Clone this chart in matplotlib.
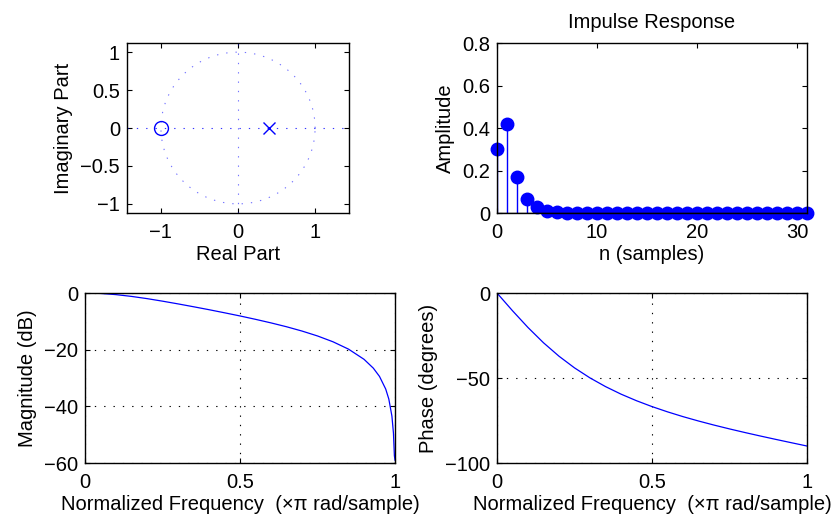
import numpy as np
import matplotlib
matplotlib.use("Agg")
import matplotlib.pyplot as plt

plt.rcParams['font.family'] = ['Liberation Sans', 'DejaVu Sans']
plt.rcParams['font.size'] = 14.5

# pole / zero
zeros_re = [-1.0]
zeros_im = [0.0]
poles_re = [0.4]
poles_im = [0.0]

# impulse response, n = 0..31
imp_n = list(range(32))
imp_h = [0.30, 0.42, 0.168, 0.067, 0.027, 0.011, 0.004, 0.002, 0.001] + [0.0] * 23

# magnitude response (dB) vs normalized frequency
mag_f = [0.0, 0.05, 0.1, 0.15, 0.2, 0.25, 0.3, 0.35, 0.4, 0.45, 0.5, 0.55, 0.6,
         0.65, 0.7, 0.75, 0.8, 0.85, 0.9, 0.93, 0.95, 0.97, 0.98, 0.99, 0.995,
         0.998, 1.0]
mag_db = [0.0, -0.14, -0.56, -1.19, -1.97, -2.87, -3.83, -4.84, -5.88, -6.97,
          -8.09, -9.28, -10.54, -11.90, -13.42, -15.15, -17.21, -19.80, -23.39,
          -26.51, -29.44, -33.89, -37.41, -43.44, -49.46, -57.42, -59.0]

# phase response (degrees)
ph_f = [0.0, 0.05, 0.1, 0.15, 0.2, 0.25, 0.3, 0.35, 0.4, 0.45, 0.5, 0.55, 0.6,
        0.65, 0.7, 0.75, 0.8, 0.85, 0.9, 0.95, 1.0]
ph_deg = [0.0, -10.41, -20.28, -29.26, -37.17, -44.02, -49.93, -55.03, -59.47,
          -63.35, -66.80, -69.89, -72.71, -75.28, -77.68, -79.93, -82.07, -84.13,
          -86.12, -88.07, -90.0]

DOTS = (0, (1.2, 7.2))

fig = plt.figure(figsize=(8.36, 5.17), dpi=100)


def matlab_axes(ax):
    ax.tick_params(direction='in', top=True, right=True, length=3.5, width=0.8)
    ax.tick_params(axis='x', pad=7)
    ax.tick_params(axis='y', pad=5)
    for s in ax.spines.values():
        s.set_linewidth(1.0)


# pole-zero plot
ax1 = fig.add_axes([0.1519, 0.5880, 0.2656, 0.3288])
t = np.linspace(0, 2 * np.pi, 200)
ax1.plot(np.cos(t), np.sin(t), color='blue', lw=0.8, alpha=0.55, ls=DOTS)
ax1.axhline(0, color='blue', lw=0.8, alpha=0.8, ls=DOTS)
ax1.axvline(0, color='blue', lw=0.8, alpha=0.55, ls=DOTS)
ax1.plot(zeros_re, zeros_im, 'o', mfc='none', mec='blue', ms=10, mew=1.0)
ax1.plot(poles_re, poles_im, 'x', color='blue', ms=8, mew=1.0)
ax1.set_xlim(-1.44, 1.44)
ax1.set_ylim(-1.12, 1.12)
ax1.set_xticks([-1, 0, 1])
ax1.set_yticks([-1, -0.5, 0, 0.5, 1])
ax1.set_xticklabels(['\u22121', '0', '1'])
ax1.set_yticklabels(['\u22121', '\u22120.5', '0', '0.5', '1'])
ax1.set_xlabel('Real Part', labelpad=2)
ax1.set_ylabel('Imaginary Part', labelpad=5)
matlab_axes(ax1)

# impulse response
ax2 = fig.add_axes([0.5945, 0.5880, 0.3708, 0.3288])
ml, sl, bl = ax2.stem(imp_n, imp_h, basefmt='k-')
plt.setp(ml, color='blue', markersize=9)
plt.setp(sl, color='blue', linewidth=1.0)
plt.setp(bl, color='black', linewidth=1.0)
ml.set_clip_on(False)
ax2.set_xlim(0, 31)
ax2.set_ylim(0, 0.8)
ax2.set_xticks([0, 10, 20, 30])
ax2.set_yticks([0, 0.2, 0.4, 0.6, 0.8])
ax2.set_yticklabels(['0', '0.2', '0.4', '0.6', '0.8'])
ax2.set_title('Impulse Response', fontsize=14.5, pad=11)
ax2.set_xlabel('n (samples)', labelpad=2)
ax2.set_ylabel('Amplitude', labelpad=5)
matlab_axes(ax2)

# magnitude
ax3 = fig.add_axes([0.1017, 0.1044, 0.3708, 0.3288])
ax3.plot(mag_f, mag_db, color='blue', lw=0.9)
ax3.set_xlim(0, 1)
ax3.set_ylim(-60, 0)
ax3.set_xticks([0, 0.5, 1])
ax3.set_xticklabels(['0', '0.5', '1'])
ax3.set_yticks([-60, -40, -20, 0])
ax3.set_yticklabels(['\u221260', '\u221240', '\u221220', '0'])
ax3.grid(True, color='black', lw=0.8, ls=DOTS)
ax3.set_xlabel('Normalized Frequency  (\u00d7\u03c0 rad/sample)', labelpad=2)
ax3.set_ylabel('Magnitude (dB)', labelpad=5)
matlab_axes(ax3)

# phase
ax4 = fig.add_axes([0.5945, 0.1044, 0.3708, 0.3288])
ax4.plot(ph_f, ph_deg, color='blue', lw=0.9)
ax4.set_xlim(0, 1)
ax4.set_ylim(-100, 0)
ax4.set_xticks([0, 0.5, 1])
ax4.set_xticklabels(['0', '0.5', '1'])
ax4.set_yticks([-100, -50, 0])
ax4.set_yticklabels(['\u2212100', '\u221250', '0'])
ax4.grid(True, color='black', lw=0.8, ls=DOTS)
ax4.set_xlabel('Normalized Frequency  (\u00d7\u03c0 rad/sample)', labelpad=2)
ax4.set_ylabel('Phase (degrees)', labelpad=5)
matlab_axes(ax4)

fig.savefig('out.png', dpi=100)
